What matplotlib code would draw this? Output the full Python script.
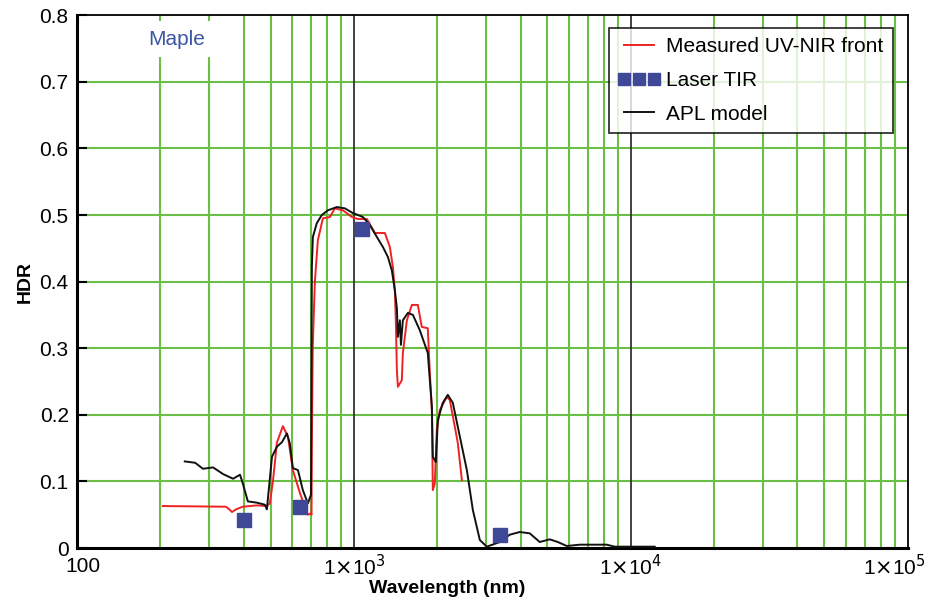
import numpy as np
import matplotlib.pyplot as plt
import matplotlib.transforms as mtransforms
from matplotlib.ticker import FixedLocator, LogLocator, NullFormatter

plt.rcParams['font.family'] = ['Liberation Sans', 'DejaVu Sans']

# Measured UV-NIR front (wavelength nm, HDR)
meas_wl = [204, 345, 355, 363, 375, 397, 447, 485, 497, 510, 519, 527, 554, 578,
           602, 638, 677, 682, 700, 703, 705, 710, 723, 741, 766, 773, 819, 854,
           913, 984, 1034, 1114, 1191, 1294, 1349, 1383, 1406, 1418, 1430, 1442,
           1490, 1503, 1554, 1620, 1702, 1759, 1849, 1879, 1913, 1928, 1960, 1993,
           2043, 2166, 2221, 2373, 2455]
meas_hdr = [0.063, 0.062, 0.058, 0.054, 0.058, 0.062, 0.064, 0.063, 0.067, 0.10,
            0.13, 0.158, 0.183, 0.167, 0.117, 0.083, 0.053, 0.05, 0.052, 0.05,
            0.15, 0.30, 0.40, 0.462, 0.488, 0.495, 0.497, 0.51, 0.507, 0.497,
            0.494, 0.494, 0.473, 0.473, 0.452, 0.422, 0.387, 0.338, 0.267, 0.242,
            0.252, 0.293, 0.342, 0.365, 0.365, 0.332, 0.33, 0.267, 0.207, 0.087,
            0.097, 0.177, 0.207, 0.227, 0.222, 0.158, 0.102]

# APL model
apl_wl = [245, 267, 285, 310, 337, 366, 388, 397, 414, 447, 477, 485, 506, 527,
          550, 573, 587, 602, 628, 654, 682, 700, 705, 711, 735, 766, 805, 868,
          928, 991, 1078, 1142, 1211, 1273, 1327, 1371, 1406, 1430, 1442, 1466,
          1479, 1503, 1567, 1634, 1730, 1849, 1913, 1928, 1977, 2010, 2095, 2184,
          2277, 2415, 2559, 2690, 2851, 3020, 3366, 3656, 3974, 4318, 4692, 5101,
          5452, 5875, 6546, 8190, 8754, 12209]
apl_hdr = [0.13, 0.128, 0.119, 0.121, 0.111, 0.104, 0.11, 0.097, 0.07, 0.068,
           0.065, 0.058, 0.137, 0.152, 0.159, 0.172, 0.157, 0.12, 0.117, 0.087,
           0.067, 0.08, 0.422, 0.467, 0.488, 0.50, 0.507, 0.512, 0.51, 0.503,
           0.497, 0.485, 0.467, 0.452, 0.437, 0.417, 0.387, 0.36, 0.317, 0.342,
           0.305, 0.342, 0.353, 0.35, 0.327, 0.293, 0.212, 0.137, 0.129, 0.192,
           0.218, 0.23, 0.218, 0.167, 0.117, 0.057, 0.012, 0.002, 0.009, 0.02,
           0.024, 0.022, 0.009, 0.013, 0.009, 0.003, 0.005, 0.005, 0.002, 0.002]

# Laser TIR
tir_wl = [401, 638, 1069, 3366]
tir_hdr = [0.042, 0.062, 0.479, 0.02]

green = '#6cbf45'

fig = plt.figure(figsize=(9.28, 6.02), dpi=100)
ax = fig.add_axes([0.083, 0.0897, 0.895, 0.885])

ax.set_xscale('log')
ax.set_xlim(100, 1e5)
ax.set_ylim(0, 0.8)

# grid: green minor verticals, dark major verticals, green horizontals
for dec in [100, 1000, 10000]:
    for k in range(2, 10):
        ax.axvline(dec * k, color=green, lw=1.5, zorder=0)
for xv in [1000, 10000]:
    ax.axvline(xv, color='#333333', lw=1.3, zorder=0.5)
for yv in np.arange(0.1, 0.75, 0.1):
    ax.axhline(yv, color=green, lw=1.5, zorder=0)

ax.plot(meas_wl, meas_hdr, color='#ee2222', lw=1.4, label='Measured UV-NIR front', zorder=3)
ax.plot(tir_wl, tir_hdr, ls='none', marker='s', ms=9.5, color='#3f4896',
        label='Laser TIR', zorder=4)
ax.plot(apl_wl, apl_hdr, color='#111111', lw=1.4, label='APL model', zorder=3)

ax.xaxis.set_major_locator(FixedLocator([100, 1000, 10000, 100000]))
ax.set_xticklabels(['100', r'1$\times$10$^3$', r'1$\times$10$^4$', r'1$\times$10$^5$'])
ax.xaxis.set_minor_locator(LogLocator(subs=[]))
ax.xaxis.set_minor_formatter(NullFormatter())
ax.tick_params(axis='x', length=0, labelsize=15, pad=4)
xlabels = ax.get_xticklabels()
# first label sits a little right/below so it clears the "0"
xlabels[0].set_transform(xlabels[0].get_transform() +
                         mtransforms.ScaledTranslation(0.06, -0.03, fig.dpi_scale_trans))
xlabels[-1].set_horizontalalignment('right')
xlabels[-1].set_transform(xlabels[-1].get_transform() +
                          mtransforms.ScaledTranslation(0.18, 0, fig.dpi_scale_trans))
ax.set_yticks(np.arange(0, 0.81, 0.1))
ax.set_yticklabels(['0', '0.1', '0.2', '0.3', '0.4', '0.5', '0.6', '0.7', '0.8'])
ax.tick_params(axis='y', direction='in', length=7, width=1.5, labelsize=15, pad=6)

for s in ['left', 'bottom']:
    ax.spines[s].set_linewidth(2.2)
for s in ['top', 'right']:
    ax.spines[s].set_linewidth(1.3)

ax.set_xlabel('Wavelength (nm)', fontsize=14, fontweight='bold')
ax.xaxis.set_label_coords(0.446, -0.06)
ax.set_ylabel('HDR', fontsize=14, fontweight='bold', labelpad=4)

ax.text(229, 0.764, 'Maple', color='#3c56a6', fontsize=15, ha='center', va='center',
        bbox=dict(facecolor='white', edgecolor='none', pad=6), zorder=2)

leg = ax.legend(loc='upper right', bbox_to_anchor=(0.982, 0.976), borderaxespad=0,
                numpoints=3, fontsize=15, frameon=True, fancybox=False,
                handlelength=2.0, handletextpad=0.3, borderpad=0.45,
                labelspacing=0.7, markerscale=0.9)
leg.get_frame().set_edgecolor('black')
leg.get_frame().set_linewidth(1.3)

fig.savefig('out.png', dpi=100)
